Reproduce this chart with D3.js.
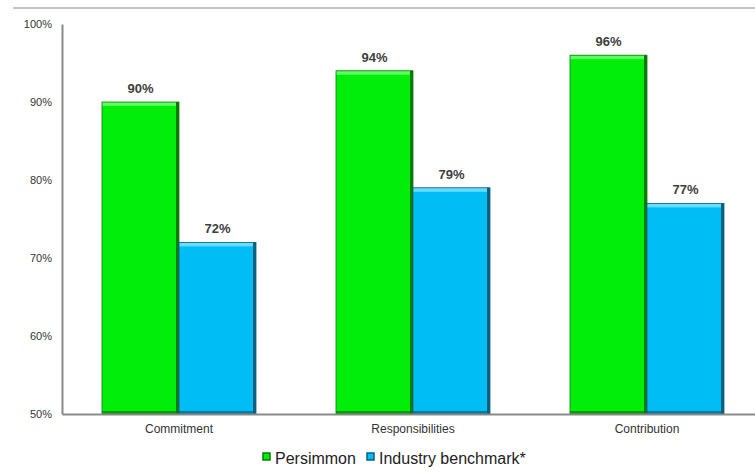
<!DOCTYPE html>
<html>
<head>
<meta charset="utf-8">
<script src="https://cdn.jsdelivr.net/npm/d3@7"></script>
<style>
  body { margin: 0; background: #fff; }
  svg { display: block; font-family: "Liberation Sans", Arial, sans-serif; }
</style>
</head>
<body>
<div id="chart"></div>
<script>
const categories = ["Commitment", "Responsibilities", "Contribution"];
const seriesNames = ["Persimmon", "Industry benchmark*"];
const persimmon = [90, 94, 96];
const benchmark = [72, 79, 77];
const yTicks = [50, 60, 70, 80, 90, 100];

const W = 755, H = 473;
const margin = { left: 62, top: 24, bottom: 59 };
const plotW = 702;
const height = H - margin.top - margin.bottom;

const colors = [
  { fill: "#00ee0a", light: "#5dff5d", dark: "#0a7a0a" },
  { fill: "#00bdf5", light: "#66dcff", dark: "#0a5f7f" }
];

const svg = d3.select("#chart").append("svg")
  .attr("width", W).attr("height", H);

// top rule
svg.append("line")
  .attr("x1", 13).attr("x2", W).attr("y1", 8).attr("y2", 8)
  .attr("stroke", "#b0b0b0").attr("stroke-width", 1.5);

const g = svg.append("g").attr("transform", `translate(${margin.left},${margin.top})`);

const x0 = d3.scaleBand().domain(categories).range([0, plotW]).paddingInner(0).paddingOuter(0);
const x1 = d3.scaleBand().domain(seriesNames).range([40, x0.bandwidth() - 40]);
const y = d3.scaleLinear().domain([50, 100]).range([height, 0]);

const rows = categories.map((c, i) => ({ cat: c, vals: [persimmon[i], benchmark[i]] }));

const groups = g.selectAll("g.grp").data(rows).join("g")
  .attr("class", "grp")
  .attr("transform", d => `translate(${x0(d.cat)},0)`);

groups.each(function(d) {
  const grp = d3.select(this);
  d.vals.forEach((v, si) => {
    const c = colors[si];
    const bx = x1(seriesNames[si]);
    const bw = x1.bandwidth();
    const by = y(v);
    const bh = height - by;
    grp.append("rect")
      .attr("x", bx).attr("y", by).attr("width", bw).attr("height", bh)
      .attr("fill", c.fill);
    // bevel: light top, dark right & bottom
    grp.append("rect")
      .attr("x", bx).attr("y", by).attr("width", bw).attr("height", 4)
      .attr("fill", c.light);
    grp.append("rect")
      .attr("x", bx + bw - 3).attr("y", by).attr("width", 3).attr("height", bh)
      .attr("fill", c.dark);
    grp.append("rect")
      .attr("x", bx).attr("y", height - 3).attr("width", bw).attr("height", 3)
      .attr("fill", c.dark).attr("opacity", 0.7);
    grp.append("rect")
      .attr("x", bx).attr("y", by).attr("width", bw).attr("height", bh)
      .attr("fill", "none").attr("stroke", c.dark).attr("stroke-width", 0.8);
    grp.append("text")
      .attr("x", bx + bw / 2).attr("y", by - 9)
      .attr("text-anchor", "middle")
      .style("font-size", "13px").style("font-weight", "bold")
      .style("fill", "#404040")
      .text(v + "%");
  });
});

// axes
const yAxis = g.append("g")
  .call(d3.axisLeft(y).tickValues(yTicks).tickSize(0).tickPadding(10).tickFormat(d => d + "%"));
yAxis.select(".domain").attr("stroke", "#8a8a8a").attr("stroke-width", 2);
yAxis.selectAll("text").style("font-size", "11px").style("fill", "#333")
  .style("font-family", "'Liberation Sans', Arial, sans-serif");

const xAxis = g.append("g").attr("transform", `translate(0,${height})`)
  .call(d3.axisBottom(x0).tickSize(0).tickPadding(10));
xAxis.select(".domain").attr("stroke", "#8a8a8a").attr("stroke-width", 2);
xAxis.selectAll("text").style("font-size", "12px").style("fill", "#333")
  .style("font-family", "'Liberation Sans', Arial, sans-serif");

// legend
const legendX = [263, 367];
seriesNames.forEach((name, i) => {
  const lg = svg.append("g").attr("transform", `translate(${legendX[i]},453)`);
  lg.append("rect").attr("x", 0).attr("y", 0).attr("width", 7).attr("height", 7)
    .attr("fill", colors[i].fill).attr("stroke", colors[i].dark).attr("stroke-width", 1.5);
  lg.append("text").attr("x", 12).attr("y", 10.5)
    .style("font-size", "16px").style("fill", "#222")
    .text(name);
});
</script>
</body>
</html>
